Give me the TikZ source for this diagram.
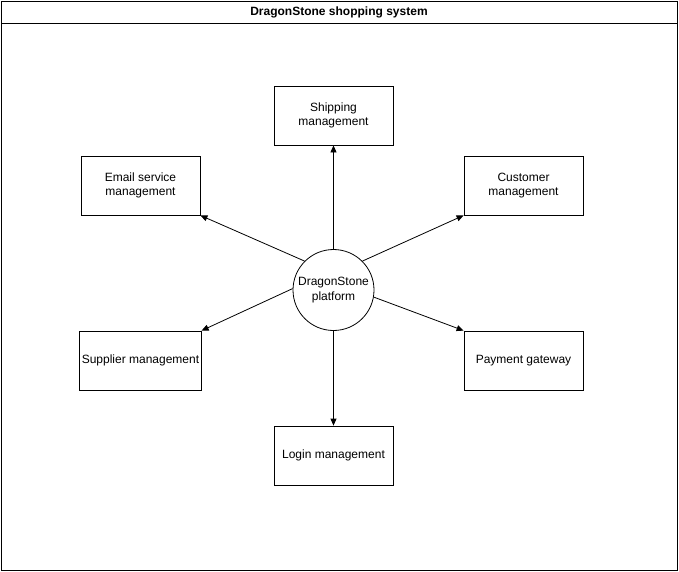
\documentclass[tikz,border=0pt]{standalone}
\usepackage{fontspec}
\setmainfont{Liberation Sans}
\usetikzlibrary{arrows.meta}
\begin{document}
\begin{tikzpicture}[x=1pt,y=-1pt,
  box/.style={draw,line width=0.8pt,minimum width=119pt,minimum height=59pt,inner sep=2pt,align=center,font=\fontsize{12}{14.4}\selectfont},
  hub/.style={draw,circle,line width=0.8pt,minimum size=81pt,inner sep=0pt,align=center,font=\fontsize{12}{14.4}\selectfont},
  conn/.style={line width=0.8pt,-{Triangle[length=7pt,width=6pt]}}]
\useasboundingbox (0,0) rectangle (679,571);
\draw[line width=0.8pt] (1,1) rectangle (677,570);
\draw[line width=0.8pt] (1,23) -- (677,23);
\node[font=\bfseries\fontsize{12}{14.4}\selectfont] (title) at (339,12) {DragonStone shopping system};
\node[hub] (c) at (333.5,290) {DragonStone\\platform};
\node[box] (ship) at (333.5,115.5) {Shipping\\management};
\node[box] (email) at (140.5,185.5) {Email service\\management};
\node[box] (cust) at (523.5,185.5) {Customer\\management};
\node[box] (supp) at (140.5,360.5) {Supplier management};
\node[box] (pay) at (523.5,360.5) {Payment gateway};
\node[box] (login) at (333.5,455.5) {Login management};
\draw[conn] (c.north) -- (ship.south);
\draw[conn] (c.south) -- (login.north);
\draw[conn] (c.135) -- (email.south east);
\draw[conn] (c.45) -- (cust.south west);
\draw[conn] (c.178) -- (supp.north east);
\draw[conn] (c.-10) -- (pay.north west);
\end{tikzpicture}
\end{document}
